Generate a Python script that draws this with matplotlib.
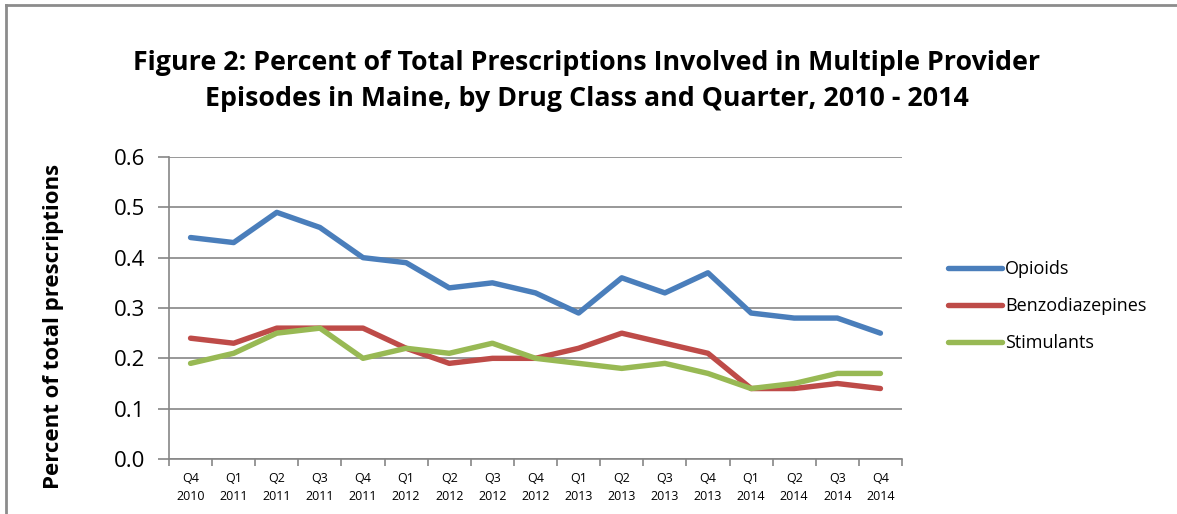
import matplotlib.pyplot as plt
from matplotlib.lines import Line2D

quarters = ['Q4\n2010', 'Q1\n2011', 'Q2\n2011', 'Q3\n2011', 'Q4\n2011', 'Q1\n2012',
            'Q2\n2012', 'Q3\n2012', 'Q4\n2012', 'Q1\n2013', 'Q2\n2013', 'Q3\n2013',
            'Q4\n2013', 'Q1\n2014', 'Q2\n2014', 'Q3\n2014', 'Q4\n2014']
opioids = [0.44, 0.43, 0.49, 0.46, 0.40, 0.39, 0.34, 0.35, 0.33, 0.29, 0.36, 0.33,
           0.37, 0.29, 0.28, 0.28, 0.25]
benzos = [0.24, 0.23, 0.26, 0.26, 0.26, 0.22, 0.19, 0.20, 0.20, 0.22, 0.25, 0.23,
          0.21, 0.14, 0.14, 0.15, 0.14]
stimulants = [0.19, 0.21, 0.25, 0.26, 0.20, 0.22, 0.21, 0.23, 0.20, 0.19, 0.18, 0.19,
              0.17, 0.14, 0.15, 0.17, 0.17]
yticks = [0.0, 0.1, 0.2, 0.3, 0.4, 0.5, 0.6]

plt.rcParams['font.family'] = ['Open Sans', 'DejaVu Sans']

fig = plt.figure(figsize=(11.77, 5.14), dpi=100)
ax = fig.add_axes([169 / 1177, 55 / 514, 733 / 1177, 302 / 514])

x = list(range(len(quarters)))
ax.plot(x, opioids, c='#4A7EBB', linewidth=3.9, solid_capstyle='round', label='Opioids')
ax.plot(x, benzos, c='#BE4B48', linewidth=3.9, solid_capstyle='round', label='Benzodiazepines')
ax.plot(x, stimulants, c='#98B954', linewidth=3.9, solid_capstyle='round', label='Stimulants')

ax.set_xlim(-0.5, len(quarters) - 0.5)
ax.set_ylim(0, 0.6)
ax.set_yticks(yticks)
ax.set_yticklabels([f'{v:.1f}' for v in yticks], fontsize=16)
ax.set_xticks(x)
ax.set_xticklabels(quarters, fontsize=9, linespacing=1.6)
ax.set_xticks([i - 0.5 for i in range(len(quarters) + 1)], minor=True)
ax.tick_params(axis='x', which='major', length=0, pad=9)
ax.tick_params(axis='x', which='minor', length=5, color='#868686', width=1.2)
ax.tick_params(axis='y', length=8, color='#868686', width=1.2, pad=9)

ax.grid(axis='y', color='#868686', linewidth=1.2)
ax.set_axisbelow(True)
for s in ['top', 'right']:
    ax.spines[s].set_visible(False)
for s in ['left', 'bottom']:
    ax.spines[s].set_color('#868686')
    ax.spines[s].set_linewidth(1.2)

ax.set_ylabel('Percent of total prescriptions', fontsize=16, fontweight='bold')
ax.yaxis.set_label_coords((64 - 169) / 733, (514 - 326 - 55) / 302)

fig.text(587 / 1177, 1 - 81 / 514, 'Figure 2: Percent of Total Prescriptions Involved in Multiple Provider\n'
         'Episodes in Maine, by Drug Class and Quarter, 2010 - 2014',
         ha='center', va='center', fontsize=19.3, fontweight='bold', linespacing=1.45)

ax.legend(loc='center left', bbox_to_anchor=(1.04, 0.506), frameon=False, fontsize=13,
          handlelength=3.0, labelspacing=1.05, handletextpad=0.2)

fig.add_artist(Line2D([6 / 1177, 6 / 1177], [0, 1 - 5 / 514], color='#8c8c8c', linewidth=2))
fig.add_artist(Line2D([6 / 1177, 1], [1 - 5 / 514, 1 - 5 / 514], color='#8c8c8c', linewidth=2))

plt.savefig('out.png')
